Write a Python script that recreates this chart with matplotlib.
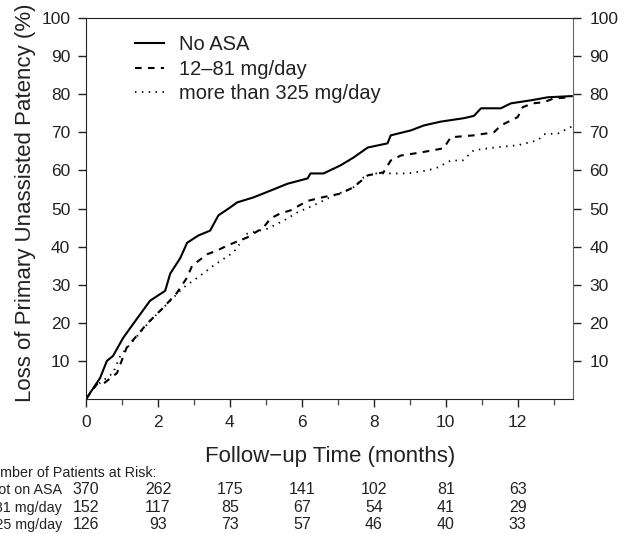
import matplotlib.pyplot as plt
import matplotlib.transforms as mtransforms

plt.rcParams['font.family'] = ['Liberation Sans', 'DejaVu Sans']

# Kaplan-Meier style curves (months, % loss of patency)
t_none = [0, 0.39, 0.58, 0.75, 1.03, 1.31, 1.78, 2.2, 2.34, 2.62, 2.81, 3.12, 3.45, 3.68,
          4.01, 4.2, 4.65, 5.13, 5.6, 6.16, 6.24, 6.6, 7.07, 7.44, 7.83, 8.38, 8.47, 9.03,
          9.39, 9.86, 10.5, 10.78, 10.98, 11.53, 11.81, 12.37, 12.84, 13.5]
v_none = [0, 5.5, 10, 11.3, 16, 19.7, 25.8, 28.4, 32.9, 37, 41, 42.9, 44.2, 48.2,
          50.3, 51.6, 52.9, 54.7, 56.5, 57.9, 59.2, 59.2, 61.3, 63.4, 66, 67.1, 69.2, 70.5,
          71.8, 72.8, 73.7, 74.3, 76.3, 76.3, 77.6, 78.4, 79.2, 79.5]

t_low = [0, 0.3, 0.48, 0.86, 1.13, 1.69, 2.15, 2.53, 2.81, 2.95, 3.37, 3.65, 3.93, 4.48,
         4.93, 5.13, 5.4, 5.68, 6.16, 6.6, 7.07, 7.44, 7.83, 8.27, 8.47, 8.75, 9.3, 9.94,
         10.05, 10.14, 10.78, 11.34, 11.53, 12.0, 12.14, 12.42, 12.73, 13.0, 13.5]
v_low = [0, 3.9, 4, 6.8, 13.5, 19.7, 24, 27.9, 31.9, 35, 38, 39, 40.3, 42.4,
         45, 47.4, 48.7, 49.5, 52, 53, 53.9, 55.6, 58.7, 59.5, 62.6, 63.9, 64.7, 65.8,
         67.4, 68.7, 69.2, 70, 71.8, 74, 76.6, 77.6, 77.9, 78.9, 79.2]

t_high = [0, 0.2, 0.75, 0.95, 1.31, 1.78, 2.26, 2.7, 3.18, 3.54, 4.1, 4.48, 5.04, 5.49,
          5.88, 6.32, 6.8, 7.44, 7.72, 8.0, 8.94, 9.5, 9.78, 10.14, 10.47, 10.78, 11.34,
          12.0, 12.56, 12.73, 13.12, 13.5]
v_high = [0, 2.9, 6.8, 11.3, 15.3, 20.5, 25, 29.2, 32.4, 35, 38.5, 43.4, 44.7, 46.8,
          49, 50.8, 53, 55.6, 58.2, 59.2, 59.2, 60, 60.8, 62.6, 62.6, 65.3, 66,
          66.6, 67.9, 69.5, 69.7, 71.5]

labels = ['No ASA', '12\u201381 mg/day', 'more than 325 mg/day']

# numbers at risk
risk_times = [0, 2, 4, 6, 8, 10, 12]
risk_rows = ['Not on ASA', '12\u201381 mg/day', '>325 mg/day']
risk_none = [370, 262, 175, 141, 102, 81, 63]
risk_low = [152, 117, 85, 67, 54, 41, 29]
risk_high = [126, 93, 73, 57, 46, 40, 33]

ink = '#222222'
fig = plt.figure(figsize=(6.33, 5.34), dpi=100)
ax = fig.add_axes([0.1359, 0.2528, 0.7701, 0.7135])

ax.plot(t_none, v_none, color='black', lw=1.5, label=labels[0])
ax.plot(t_low, v_low, color='black', lw=1.5, ls=(0, (3.2, 3)), label=labels[1])
ax.plot(t_high, v_high, color='black', lw=1.3, ls=(0, (0.8, 3)), label=labels[2])

ax.set_xlim(0, 13.55)
ax.set_ylim(0, 100)
ax.set_xticks(range(0, 13, 2))
ax.set_xticks(range(1, 14, 2), minor=True)
ax.set_yticks(range(10, 101, 10))

for side in ['left', 'bottom', 'top']:
    ax.spines[side].set_color(ink)
ax.spines['right'].set_color('#666666')
ax.tick_params(axis='x', which='major', length=5.8, width=1, colors=ink,
               labelsize=12.5, pad=6)
ax.tick_params(axis='x', which='minor', length=4, width=1, colors='#555555')
ax.tick_params(axis='y', length=5.8, width=1, colors=ink, labelsize=12.5,
               left=True, right=True, labelleft=True, labelright=True, pad=5.5)

ax.set_ylabel('Loss of Primary Unassisted Patency (%)', fontsize=16, color=ink)
ax.yaxis.set_label_coords(-0.103, 0.514)
ax.set_xlabel('Follow\u2212up Time (months)', fontsize=16, color=ink, labelpad=11)

ax.legend(loc='upper left', bbox_to_anchor=(0.10, 0.955), frameon=False,
          fontsize=14.5, handlelength=1.45, handletextpad=0.75, labelspacing=0.27,
          borderaxespad=0, borderpad=0, labelcolor=ink)

# risk table below the axis
trans = mtransforms.blended_transform_factory(ax.transData, fig.transFigure)
fig.text(-0.029, 0.1142, 'Number of Patients at Risk:', fontsize=10.3, color=ink,
         ha='left', va='center')
row_y = [0.0824, 0.0487, 0.0169]
for name, counts, y in zip(risk_rows, [risk_none, risk_low, risk_high], row_y):
    fig.text(0.098, y, name, fontsize=10.3, color=ink, ha='right', va='center')
    for t, n in zip(risk_times, counts):
        ax.text(t, y, str(n), transform=trans, fontsize=11.5, color=ink,
                ha='center', va='center')

fig.savefig('out.png', dpi=100)
